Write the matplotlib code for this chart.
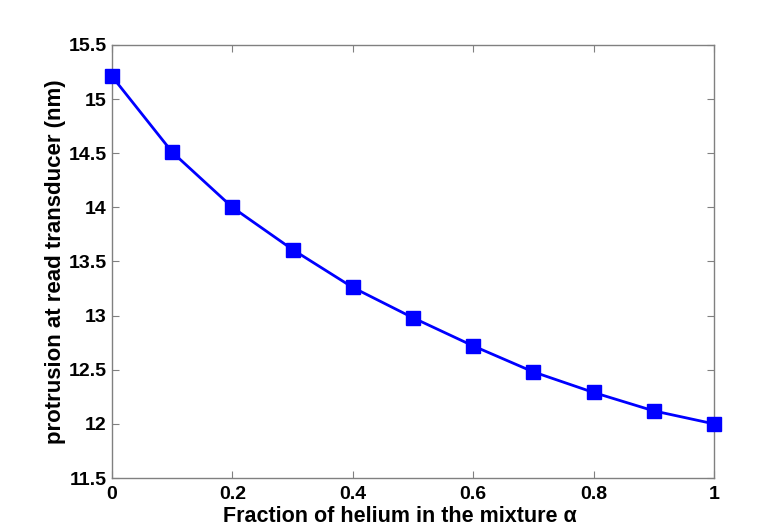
import matplotlib
matplotlib.use("Agg")
import matplotlib.pyplot as plt

alpha = [0.0, 0.1, 0.2, 0.3, 0.4, 0.5, 0.6, 0.7, 0.8, 0.9, 1.0]
protrusion = [15.21, 14.51, 14.00, 13.61, 13.26, 12.98, 12.72, 12.48, 12.29, 12.12, 12.00]

plt.rcParams["font.family"] = ["Liberation Sans", "DejaVu Sans"]
plt.rcParams["font.weight"] = "bold"

fig = plt.figure(figsize=(7.74, 5.29), dpi=100)
ax = fig.add_axes([0.1447, 0.0964, 0.7778, 0.8186])

ax.plot(alpha, protrusion, color="#0000ff", linewidth=2, marker="s",
        markersize=9.5, markerfacecolor="#0000ff", markeredgecolor="#0000ff",
        clip_on=False, zorder=3)

ax.set_xlim(0, 1)
ax.set_ylim(11.5, 15.5)
ax.set_xticks([0, 0.2, 0.4, 0.6, 0.8, 1])
ax.set_xticklabels(["0", "0.2", "0.4", "0.6", "0.8", "1"])
ax.set_yticks([11.5, 12, 12.5, 13, 13.5, 14, 14.5, 15, 15.5])
ax.set_yticklabels(["11.5", "12", "12.5", "13", "13.5", "14", "14.5", "15", "15.5"])

for s in ax.spines.values():
    s.set_color("#808080")
    s.set_linewidth(1)
ax.tick_params(direction="in", top=True, right=True, length=5,
               color="#808080", labelsize=14, labelcolor="black")
ax.tick_params(axis="x", pad=6)
ax.tick_params(axis="y", pad=4)
for lab in ax.get_xticklabels() + ax.get_yticklabels():
    lab.set_fontweight("bold")

ax.set_xlabel("Fraction of helium in the mixture α", fontsize=15.5,
              fontweight="bold", labelpad=2)
ax.xaxis.label.set_x(0.478)
ax.set_ylabel("protrusion at read transducer (nm)", fontsize=16,
              fontweight="bold", labelpad=2)

fig.savefig("out.png", dpi=100)
